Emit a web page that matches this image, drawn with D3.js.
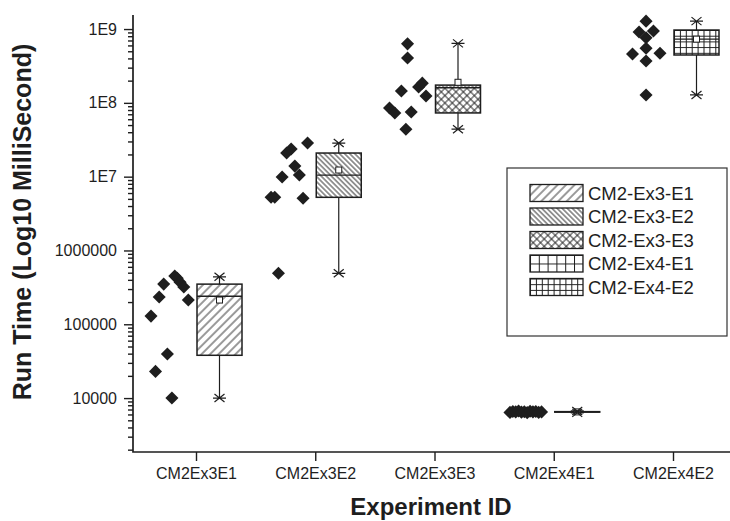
<!DOCTYPE html>
<html>
<head>
<meta charset="utf-8">
<script src="https://cdn.jsdelivr.net/npm/d3@7"></script>
<style>
    body { margin: 0; background: white; }
    svg { display: block; font-family: "Liberation Sans", Arial, sans-serif; }
</style>
</head>
<body>
<svg id="chart" width="730" height="521"></svg>
<script>
const categories = ["CM2Ex3E1", "CM2Ex3E2", "CM2Ex3E3", "CM2Ex4E1", "CM2Ex4E2"]
const legendNames = ["CM2-Ex3-E1", "CM2-Ex3-E2", "CM2-Ex3-E3", "CM2-Ex4-E1", "CM2-Ex4-E2"]

const yMajor = [1e4, 1e5, 1e6, 1e7, 1e8, 1e9]
const yMajorLabels = ["10000", "100000", "1000000", "1E7", "1E8", "1E9"]

// run times of every single run (ms)
const runsE1 = [450000, 420000, 370000, 320000, 350000, 234000, 213000, 129000, 39500, 23000, 10000]
const runsE2 = [28500000, 20900000, 23700000, 13900000, 10500000, 9900000, 5250000, 5250000, 5100000, 490000]
const runsE3 = [630000000, 405000000, 145000000, 164000000, 185000000, 124000000, 85000000, 73000000, 75000000, 44000000]
const runsE4 = [6400, 6600, 6500, 6700, 6450, 6550, 6350, 6650, 6500, 6600, 6400, 6500]
const runsE5 = [1280000000, 910000000, 940000000, 760000000, 550000000, 460000000, 470000000, 370000000, 128000000]

// horizontal spread of the points left of the box (0 = next to box, 1 = far)
const jitterE1 = [0.42, 0.36, 0.29, 0.2, 0.69, 0.8, 0.09, 1, 0.6, 0.89, 0.49]
const jitterE2 = [0.09, 0.6, 0.49, 0.4, 0.29, 0.71, 0.98, 0.89, 0.2, 0.8]
const jitterE3 = [0.56, 0.56, 0.71, 0.29, 0.2, 0.11, 1, 0.87, 0.47, 0.6]
const jitterE4 = [0.97, 0.9, 0.83, 0.76, 0.69, 0.62, 0.55, 0.48, 0.41, 0.34, 0.27, 0.2]
const jitterE5 = [0.56, 0.73, 0.38, 0.56, 0.56, 0.89, 0.22, 0.56, 0.56]

// box statistics per experiment
const boxMin = [10000, 490000, 44000000, 6300, 128000000]
const boxQ1 = [38000, 5250000, 73000000, 6450, 445000000]
const boxMedian = [240000, 10500000, 160000000, 6500, 730000000]
const boxQ3 = [350000, 20900000, 174000000, 6550, 970000000]
const boxMax = [440000, 28500000, 640000000, 6700, 1280000000]
const boxMean = [213000, 12300000, 190000000, 6500, 730000000]

const runs = [runsE1, runsE2, runsE3, runsE4, runsE5]
const jitters = [jitterE1, jitterE2, jitterE3, jitterE4, jitterE5]

const ink = "#1e1e1e"
const axisX = 133
const axisY = 452
const boxW = 45

const svg = d3.select("#chart")
const defs = svg.append("defs")

const y = d3.scaleLog()
    .domain([1860, 1.55e9])
    .range([axisY, 15])

const x = d3.scalePoint()
    .domain(categories)
    .range([196, 673])

// fill patterns, one per experiment
function addPattern(id, kind, x0, y0) {
    const p = defs.append("pattern")
        .attr("id", id)
        .attr("patternUnits", "userSpaceOnUse")
    if (kind == 0 || kind == 1 || kind == 2) {
        const s = kind == 0 ? 6 : kind == 1 ? 3.6 : 5.2
        p.attr("width", s).attr("height", s)
            .attr("patternTransform", "rotate(" + (kind == 1 ? -45 : 45) + ")")
        p.append("rect").attr("width", s).attr("height", s).attr("fill", "white")
        p.append("line")
            .attr("x1", s / 2).attr("x2", s / 2)
            .attr("y1", 0).attr("y2", s)
            .attr("stroke", ink).attr("stroke-width", 0.9)
        if (kind == 2)
            p.append("line")
                .attr("x1", 0).attr("x2", s)
                .attr("y1", s / 2).attr("y2", s / 2)
                .attr("stroke", ink).attr("stroke-width", 0.9)
    } else {
        const w = kind == 3 ? 8.8 : 5.9
        const h = kind == 3 ? 8.5 : 5.7
        p.attr("width", w).attr("height", h)
            .attr("x", x0).attr("y", y0)
        p.append("rect").attr("width", w).attr("height", h).attr("fill", "white")
        p.append("path")
            .attr("d", "M0.5,0V" + h + "M0,0.5H" + w)
            .attr("stroke", ink).attr("stroke-width", 1)
    }
}

// y axis
const yAxis = svg.append("g")
    .attr("transform", "translate(" + axisX + ",0)")
    .call(d3.axisLeft(y)
        .tickValues(yMajor)
        .tickFormat((d, i) => yMajorLabels[i])
        .tickSize(9)
        .tickPadding(7))
yAxis.select(".domain").remove()

const yMinor = []
for (let e = 3; e <= 9; e++)
    for (let m = 2; m <= 9; m++) {
        const v = m * Math.pow(10, e)
        if (v >= y.domain()[0] && v <= y.domain()[1]) yMinor.push(v)
    }
const yAxisMinor = svg.append("g")
    .attr("transform", "translate(" + axisX + ",0)")
    .call(d3.axisLeft(y)
        .tickValues(yMinor)
        .tickFormat("")
        .tickSize(5))
yAxisMinor.select(".domain").remove()

// x axis
const xAxis = svg.append("g")
    .attr("transform", "translate(0," + axisY + ")")
    .call(d3.axisBottom(x)
        .tickSize(9)
        .tickPadding(7))
xAxis.select(".domain").remove()

svg.selectAll(".tick line")
    .attr("stroke", ink)
    .attr("stroke-width", 1.4)
svg.selectAll(".tick text")
    .attr("fill", ink)
    .style("font-size", "16px")
    .style("font-family", "'Liberation Sans', Arial, sans-serif")

svg.append("path")
    .attr("d", "M" + axisX + ",15V" + axisY + "H730")
    .attr("fill", "none")
    .attr("stroke", ink)
    .attr("stroke-width", 1.7)

// axis titles
svg.append("text")
    .attr("transform", "translate(31,222) rotate(-90)")
    .attr("text-anchor", "middle")
    .attr("fill", ink)
    .style("font-size", "25px")
    .style("font-weight", "bold")
    .text("Run Time (Log10 MilliSecond)")

svg.append("text")
    .attr("x", 431)
    .attr("y", 515)
    .attr("text-anchor", "middle")
    .attr("fill", ink)
    .style("font-size", "24px")
    .style("font-weight", "bold")
    .text("Experiment ID")

// raw points
const diamond = d3.symbol(d3.symbolSquare, 85)
categories.forEach((c, i) => {
    const cx = x(c)
    svg.append("g")
        .selectAll("path")
        .data(runs[i])
        .join("path")
        .attr("d", diamond)
        .attr("transform", (d, k) => "translate(" + (cx - 4 - jitters[i][k] * (boxW - 4)) + "," + y(d) + ") rotate(45)")
        .attr("fill", ink)
})

// boxes
function asterisk(g, cx, cy) {
    g.append("path")
        .attr("d", "M" + (cx - 6.5) + "," + cy + "H" + (cx + 6.5) +
            "M" + (cx - 5) + "," + (cy - 4) + "L" + (cx + 5) + "," + (cy + 4) +
            "M" + (cx - 5) + "," + (cy + 4) + "L" + (cx + 5) + "," + (cy - 4))
        .attr("stroke", ink)
        .attr("stroke-width", 1.2)
        .attr("fill", "none")
}

categories.forEach((c, i) => {
    const x0 = x(c) + 1
    const cx = x0 + boxW / 2
    const top = y(boxQ3[i])
    const bottom = y(boxQ1[i])
    const g = svg.append("g")

    g.append("line")
        .attr("x1", cx).attr("x2", cx)
        .attr("y1", y(boxMax[i])).attr("y2", y(boxMin[i]))
        .attr("stroke", ink).attr("stroke-width", 1.2)

    addPattern("box" + i, i, x0, top)
    g.append("rect")
        .attr("x", x0)
        .attr("y", top)
        .attr("width", boxW)
        .attr("height", Math.max(bottom - top, 0.5))
        .attr("fill", "url(#box" + i + ")")
        .attr("stroke", ink)
        .attr("stroke-width", 1.5)

    g.append("line")
        .attr("x1", x0).attr("x2", x0 + boxW)
        .attr("y1", y(boxMedian[i])).attr("y2", y(boxMedian[i]))
        .attr("stroke", ink).attr("stroke-width", 1.4)

    g.append("rect")
        .attr("x", cx - 3)
        .attr("y", y(boxMean[i]) - 3)
        .attr("width", 6)
        .attr("height", 6)
        .attr("fill", "white")
        .attr("stroke", ink)
        .attr("stroke-width", 1)

    asterisk(g, cx, y(boxMax[i]))
    asterisk(g, cx, y(boxMin[i]))
})

// legend
const legend = svg.append("g")
legend.append("rect")
    .attr("x", 507)
    .attr("y", 168)
    .attr("width", 220)
    .attr("height", 168)
    .attr("fill", "white")
    .attr("stroke", "#333")
    .attr("stroke-width", 1.2)

legendNames.forEach((name, i) => {
    const cy = 193 + i * 23.5
    addPattern("leg" + i, i, 530, cy - 8.5)
    legend.append("rect")
        .attr("x", 530)
        .attr("y", cy - 8.5)
        .attr("width", 53)
        .attr("height", 17)
        .attr("fill", "url(#leg" + i + ")")
        .attr("stroke", ink)
        .attr("stroke-width", 1.3)
    legend.append("text")
        .attr("x", 588)
        .attr("y", cy + 6.5)
        .attr("fill", ink)
        .style("font-size", "18.5px")
        .text(name)
})
</script>
</body>
</html>
